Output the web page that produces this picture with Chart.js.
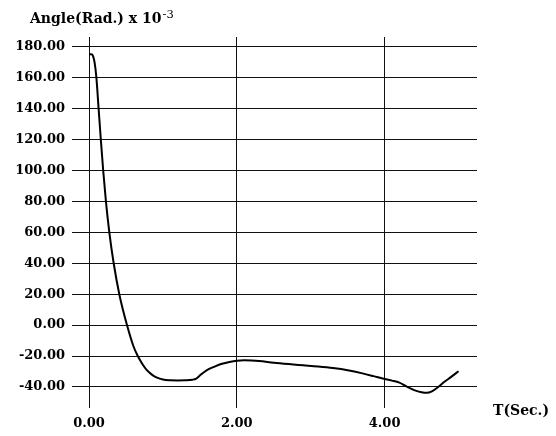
<!DOCTYPE html>
<html>
<head>
<meta charset="utf-8">
<script src="https://cdn.jsdelivr.net/npm/chart.js@4/dist/chart.umd.min.js"></script>
<style>
  html, body { margin: 0; padding: 0; background: #ffffff; }
  #wrap { width: 556px; height: 436px; position: relative; }
</style>
</head>
<body>
<div id="wrap"><canvas id="c" width="556" height="436"></canvas></div>
<script>
// ---- data ----
const timeSec = [0, 0.03, 0.055, 0.075, 0.1, 0.13, 0.16, 0.192, 0.229, 0.275, 0.334, 0.41, 0.514, 0.6, 0.66, 0.72, 0.78, 0.85, 0.92, 1.0, 1.1, 1.2, 1.3, 1.4, 1.45, 1.5, 1.56, 1.62, 1.7, 1.8, 1.9, 2.0, 2.1, 2.2, 2.3, 2.5, 2.7, 2.9, 3.1, 3.3, 3.5, 3.7, 3.85, 4.0, 4.1, 4.2, 4.3, 4.4, 4.5, 4.57, 4.64, 4.72, 4.8, 4.9, 5.0];
const angleE3 = [175, 175.2, 174, 170, 160, 140, 120, 100, 80, 60, 40, 20, 0, -13.5, -20, -25, -29, -32, -34, -35.2, -35.7, -35.8, -35.7, -35.3, -34.6, -32.6, -30.3, -28.5, -26.8, -25, -23.8, -23, -22.8, -22.9, -23.2, -24.3, -25.2, -26, -26.8, -27.8, -29.2, -31.2, -33, -34.9, -35.9, -37.2, -39.8, -42, -43.4, -43.8, -42.8, -40.2, -37, -33.5, -29.8];
const yTicks = [-40, -20, 0, 20, 40, 60, 80, 100, 120, 140, 160, 180];
const xTicks = [0, 2, 4];
const yTitle = 'Angle(Rad.) x 10';
const yTitleExp = '-3';
const xTitle = 'T(Sec.)';

const FONT = '"DejaVu Serif", serif';

const textPlugin = {
  id: 'texts',
  afterDraw(chart) {
    const ctx = chart.ctx;
    ctx.save();
    ctx.fillStyle = '#000';
    ctx.textBaseline = 'alphabetic';
    ctx.textAlign = 'left';
    ctx.font = 'bold 14px ' + FONT;
    ctx.fillText(yTitle, 30, 23);
    const w = ctx.measureText(yTitle).width;
    ctx.font = '11.5px ' + FONT;
    ctx.fillText(yTitleExp, 30 + w + 1, 18);
    ctx.font = 'bold 14px ' + FONT;
    ctx.fillText(xTitle, 493, 415);
    ctx.restore();
  }
};

new Chart(document.getElementById('c'), {
  type: 'line',
  data: {
    datasets: [{
      data: timeSec.map((t, i) => ({ x: t, y: angleE3[i] })),
      borderColor: '#000',
      borderWidth: 2,
      pointRadius: 0,
      cubicInterpolationMode: 'monotone',
      fill: false
    }]
  },
  options: {
    responsive: false,
    animation: false,
    events: [],
    layout: { padding: { top: 37, right: 79, bottom: 0, left: 0 } },
    plugins: { legend: { display: false }, tooltip: { enabled: false }, title: { display: false } },
    scales: {
      x: {
        type: 'linear',
        min: 0,
        max: 5.25,
        afterBuildTicks: (axis) => { axis.ticks = xTicks.map(v => ({ value: v })); },
        afterFit: (axis) => { axis.height = 28; },
        grid: { color: '#111', lineWidth: 1, drawTicks: false },
        border: { display: false },
        ticks: {
          padding: 8,
          color: '#000',
          font: { family: FONT, size: 13, weight: 'bold' },
          callback: (v) => Number(v).toFixed(2),
          maxRotation: 0
        }
      },
      y: {
        type: 'linear',
        min: -53.6,
        max: 186.3,
        afterBuildTicks: (axis) => { axis.ticks = yTicks.map(v => ({ value: v })); },
        afterFit: (axis) => { axis.width = 89; },
        grid: { color: '#111', lineWidth: 1, drawTicks: true, tickLength: 17 },
        border: { display: false },
        ticks: {
          padding: 7,
          color: '#000',
          font: { family: FONT, size: 13, weight: 'bold' },
          callback: (v) => Number(v).toFixed(2)
        }
      }
    }
  },
  plugins: [textPlugin]
});
</script>
</body>
</html>
